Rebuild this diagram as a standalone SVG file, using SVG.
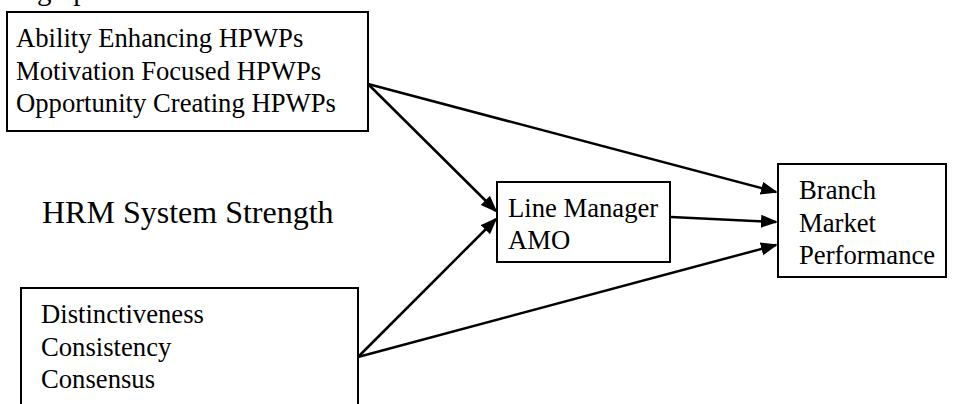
<svg xmlns="http://www.w3.org/2000/svg" width="956" height="404" viewBox="0 0 956 404" font-family="'Liberation Serif', 'Times New Roman', serif">
<defs>
<style>
text{font-family:'Liberation Serif','Times New Roman',serif;fill:#000}
.t{font-size:26.67px}
.box{fill:#fff;stroke:#000;stroke-width:2}
.c{stroke:#000;stroke-width:2.5;fill:none;marker-end:url(#ah)}
</style>
<marker id="ah" markerUnits="userSpaceOnUse" markerWidth="18" markerHeight="14" refX="15" refY="6.5" orient="auto">
<path d="M0,0 L17,6.5 L0,13 Z" fill="#000"/>
</marker>
</defs>
<rect width="956" height="404" fill="#fff"/>
<text x="8" y="0" font-family="Liberation Serif" font-size="29">High p</text>
<g id="connectors">
<line class="c" x1="368" y1="84" x2="496" y2="211"/>
<line class="c" x1="368" y1="84" x2="776" y2="192"/>
<line class="c" x1="358" y1="357" x2="496" y2="219"/>
<line class="c" x1="358" y1="357" x2="776" y2="245"/>
<line class="c" x1="671" y1="217" x2="776" y2="222"/>
</g>
<g id="hpwp" font-family="Liberation Serif">
<rect class="box" x="7" y="12" width="361" height="119"/>
<text class="t" x="16" y="47">Ability Enhancing HPWPs</text>
<text class="t" x="16" y="80">Motivation Focused HPWPs</text>
<text class="t" x="16" y="112">Opportunity Creating HPWPs</text>
</g>
<g id="hrm-label" font-family="Liberation Serif">
<text x="42" y="223" font-size="32">HRM System Strength</text>
</g>
<g id="strength" font-family="Liberation Serif">
<rect class="box" x="21" y="288" width="337" height="130"/>
<text class="t" x="41" y="323">Distinctiveness</text>
<text class="t" x="41" y="356">Consistency</text>
<text class="t" x="41" y="388">Consensus</text>
</g>
<g id="line-manager" font-family="Liberation Serif">
<rect class="box" x="497" y="182" width="173" height="80"/>
<text class="t" x="508" y="217">Line Manager</text>
<text class="t" x="508" y="249">AMO</text>
</g>
<g id="branch" font-family="Liberation Serif">
<rect class="box" x="778" y="164" width="168" height="113"/>
<text class="t" x="799" y="199">Branch</text>
<text class="t" x="799" y="232">Market</text>
<text class="t" x="799" y="264">Performance</text>
</g>
</svg>
